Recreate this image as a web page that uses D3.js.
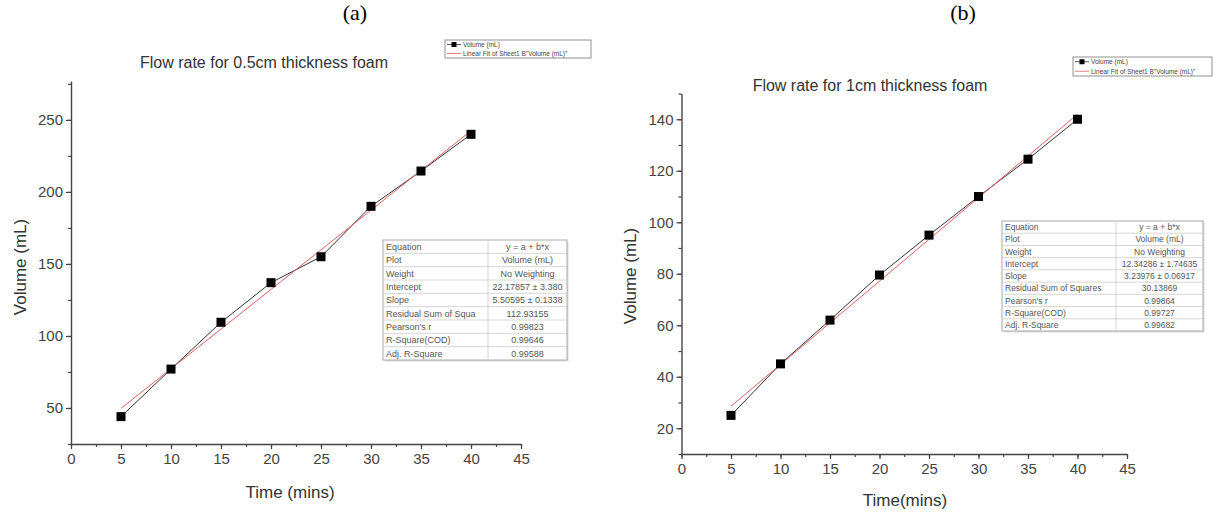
<!DOCTYPE html>
<html>
<head>
<meta charset="utf-8">
<script src="https://cdn.jsdelivr.net/npm/d3@7"></script>
<style>
  body { margin: 0; background: #fff; }
  text { font-family: "Liberation Sans", Arial, sans-serif; }
</style>
</head>
<body>
<svg id="chart" width="1219" height="512"></svg>
<script>
// measured values, time in minutes
const times = [5, 10, 15, 20, 25, 30, 35, 40];
const volumeA = [44, 77, 109.5, 137, 155, 190, 214.5, 240];
const volumeB = [25, 45, 62, 79.5, 95, 110, 124.5, 140];

// linear fit results [intercept, slope] from the fit tables
const fitA = [22.17857, 5.50595];
const fitB = [12.34286, 3.23976];

const xTicks = [0, 5, 10, 15, 20, 25, 30, 35, 40, 45];
const yTicksA = [50, 100, 150, 200, 250];
const yTicksB = [20, 40, 60, 80, 100, 120, 140];

const tableLabelsA = ["Equation", "Plot", "Weight", "Intercept", "Slope",
  "Residual Sum of Squa", "Pearson's r", "R-Square(COD)", "Adj. R-Square"];
const tableValuesA = ["y = a + b*x", "Volume (mL)", "No Weighting", "22.17857 \u00b1 3.380",
  "5.50595 \u00b1 0.1338", "112.93155", "0.99823", "0.99646", "0.99588"];
const tableLabelsB = ["Equation", "Plot", "Weight", "Intercept", "Slope",
  "Residual Sum of Squares", "Pearson's r", "R-Square(COD)", "Adj. R-Square"];
const tableValuesB = ["y = a + b*x", "Volume (mL)", "No Weighting", "12.34286 \u00b1 1.74635",
  "3.23976 \u00b1 0.06917", "30.13869", "0.99864", "0.99727", "0.99682"];

const legendLabels = ["Volume (mL)", "Linear Fit of Sheet1 B\"Volume (mL)\""];

const svg = d3.select("#chart");

function drawPanel(p) {
  const g = svg.append("g");
  const x = d3.scaleLinear().domain([0, 45]).range(p.xRange);
  const y = d3.scaleLinear().domain(p.yDomain).range(p.yRange);

  // panel letter
  g.append("text")
    .attr("x", p.letterX).attr("y", 20)
    .attr("text-anchor", "middle")
    .style("font-family", "'Liberation Serif', 'Times New Roman', serif")
    .style("font-size", "22px")
    .text(p.letter);

  // title
  g.append("text")
    .attr("x", p.titleX).attr("y", p.titleY)
    .attr("text-anchor", "middle")
    .style("font-size", "16px")
    .style("fill", "#333")
    .text(p.title);

  // minor ticks
  const minorX = d3.range(0, 45.1, 2.5);
  g.append("g")
    .attr("transform", `translate(0,${p.yRange[0]})`)
    .call(d3.axisBottom(x).tickValues(minorX).tickSize(3).tickFormat(""))
    .call(a => a.select(".domain").remove());
  g.append("g")
    .attr("transform", `translate(${p.xRange[0]},0)`)
    .call(d3.axisLeft(y).tickValues(p.yMinor).tickSize(3).tickFormat(""))
    .call(a => a.select(".domain").remove());

  // major axes
  const xAxis = g.append("g")
    .attr("transform", `translate(0,${p.yRange[0]})`)
    .call(d3.axisBottom(x).tickValues(xTicks).tickSize(5).tickSizeOuter(0).tickPadding(4));
  const yAxis = g.append("g")
    .attr("transform", `translate(${p.xRange[0]},0)`)
    .call(d3.axisLeft(y).tickValues(p.yTicks).tickSize(5).tickSizeOuter(0).tickPadding(3));

  g.selectAll(".tick line").attr("stroke", "#444").attr("stroke-width", 1.2);
  [xAxis, yAxis].forEach(a => {
    a.select(".domain").attr("stroke", "#444").attr("stroke-width", 1.4);
    a.selectAll("text")
      .style("font-size", "15px")
      .style("font-family", "'Liberation Sans', Arial, sans-serif")
      .attr("fill", "#444");
  });

  // axis labels
  g.append("text")
    .attr("x", p.xLabelX).attr("y", p.xLabelY)
    .attr("text-anchor", "middle")
    .style("font-size", "17px")
    .style("fill", "#333")
    .text(p.xLabel);
  g.append("text")
    .attr("transform", `translate(${p.yLabelX},${p.yLabelY}) rotate(-90)`)
    .attr("text-anchor", "middle")
    .style("font-size", "17px")
    .style("fill", "#333")
    .text("Volume (mL)");

  // data line + fit line
  const pts = times.map((t, i) => ({ t: t, v: p.values[i] }));
  g.append("path")
    .datum(pts)
    .attr("fill", "none")
    .attr("stroke", "#333")
    .attr("stroke-width", 1)
    .attr("d", d3.line().x(d => x(d.t)).y(d => y(d.v)));

  const fitPts = [times[0], times[times.length - 1]].map(t => ({ t: t, v: p.fit[0] + p.fit[1] * t }));
  g.append("path")
    .datum(fitPts)
    .attr("fill", "none")
    .attr("stroke", "#e0605f")
    .attr("stroke-width", 1)
    .attr("d", d3.line().x(d => x(d.t)).y(d => y(d.v)));

  g.selectAll("rect.pt")
    .data(pts)
    .enter().append("rect")
      .attr("class", "pt")
      .attr("x", d => x(d.t) - 4.5)
      .attr("y", d => y(d.v) - 4.5)
      .attr("width", 9)
      .attr("height", 9)
      .attr("fill", "#000");

  // legend
  const lg = g.append("g").attr("transform", `translate(${p.legend[0]},${p.legend[1]})`);
  lg.append("rect")
    .attr("width", p.legend[2]).attr("height", p.legend[3])
    .attr("fill", "#fff").attr("stroke", "#777").attr("stroke-width", 0.8);
  const rowH = p.legend[3] / 2;
  lg.append("line").attr("x1", 2).attr("x2", 16).attr("y1", rowH * 0.5).attr("y2", rowH * 0.5)
    .attr("stroke", "#333").attr("stroke-width", 0.8);
  lg.append("rect").attr("x", 6.5).attr("y", rowH * 0.5 - 2.5).attr("width", 5).attr("height", 5).attr("fill", "#000");
  lg.append("line").attr("x1", 2).attr("x2", 16).attr("y1", rowH * 1.5).attr("y2", rowH * 1.5)
    .attr("stroke", "#e0605f").attr("stroke-width", 0.8);
  lg.selectAll("text.lg")
    .data(legendLabels)
    .enter().append("text")
      .attr("class", "lg")
      .attr("x", 18)
      .attr("y", (d, i) => rowH * (i + 0.5) + 2.3)
      .style("font-size", "6.5px")
      .style("fill", "#444")
      .text(d => d);

  // fit table
  const tb = g.append("g").attr("transform", `translate(${p.table[0]},${p.table[1]})`);
  const tw = p.table[2], th = p.table[3], split = p.table[4];
  const rh = th / p.labels.length;
  tb.append("rect").attr("x", 1.5).attr("y", 1.5).attr("width", tw).attr("height", th).attr("fill", "#ddd");
  tb.append("rect").attr("width", tw).attr("height", th).attr("fill", "#fff")
    .attr("stroke", "#aaa").attr("stroke-width", 1);
  tb.selectAll("line.row")
    .data(d3.range(1, p.labels.length))
    .enter().append("line")
      .attr("class", "row")
      .attr("x1", 0).attr("x2", tw)
      .attr("y1", d => d * rh).attr("y2", d => d * rh)
      .attr("stroke", "#ccc").attr("stroke-width", 0.8);
  tb.append("line").attr("x1", split).attr("x2", split).attr("y1", 0).attr("y2", th)
    .attr("stroke", "#ccc").attr("stroke-width", 0.8);
  tb.selectAll("text.lab")
    .data(p.labels)
    .enter().append("text")
      .attr("class", "lab")
      .attr("x", 3)
      .attr("y", (d, i) => (i + 0.5) * rh + p.tableFont * 0.36)
      .style("font-size", p.tableFont + "px")
      .style("fill", "#555")
      .text(d => d);
  tb.selectAll("text.val")
    .data(p.tableValues)
    .enter().append("text")
      .attr("class", "val")
      .attr("x", split + (tw - split) / 2)
      .attr("y", (d, i) => (i + 0.5) * rh + p.tableFont * 0.36)
      .attr("text-anchor", "middle")
      .style("font-size", p.tableFont + "px")
      .style("fill", "#555")
      .text(d => d);
}

drawPanel({
  letter: "(a)", letterX: 355,
  title: "Flow rate for 0.5cm thickness foam", titleX: 264, titleY: 68,
  xRange: [71, 521], yDomain: [25, 277], yRange: [444, 81],
  yTicks: yTicksA, yMinor: d3.range(25, 277, 25),
  values: volumeA, fit: fitA,
  xLabel: "Time (mins)", xLabelX: 290, xLabelY: 498,
  yLabelX: 26, yLabelY: 267,
  legend: [445, 40, 146, 18],
  table: [383, 240, 184, 120, 105], tableFont: 9,
  labels: tableLabelsA, tableValues: tableValuesA
});

drawPanel({
  letter: "(b)", letterX: 963,
  title: "Flow rate for 1cm thickness foam", titleX: 870, titleY: 91,
  xRange: [681.5, 1127], yDomain: [10, 150], yRange: [454, 93.5],
  yTicks: yTicksB, yMinor: d3.range(10, 151, 10),
  values: volumeB, fit: fitB,
  xLabel: "Time(mins)", xLabelX: 905, xLabelY: 506,
  yLabelX: 636, yLabelY: 276,
  legend: [1073, 57, 139, 19],
  table: [1002, 221, 201, 110, 114], tableFont: 8.5,
  labels: tableLabelsB, tableValues: tableValuesB
});
</script>
</body>
</html>
